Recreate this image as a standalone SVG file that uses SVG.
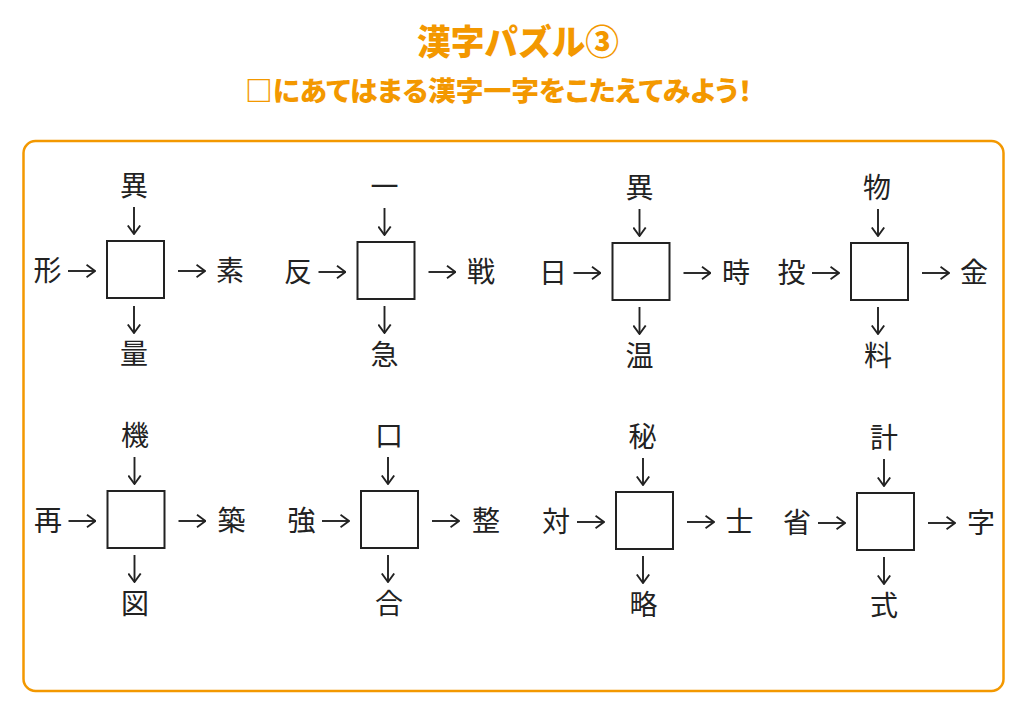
<svg xmlns="http://www.w3.org/2000/svg" width="1024" height="724" viewBox="0 0 1024 724">
  <defs>
    <marker id="ah" viewBox="0 0 10 14" refX="9.3" refY="7" markerWidth="10" markerHeight="14" markerUnits="userSpaceOnUse" orient="auto">
      <path d="M0.8,0.8 L9.3,7 L0.8,13.2" fill="none" stroke="#222" stroke-width="1.9" stroke-linejoin="miter"/>
    </marker>
  </defs>
  <style>
    .title { font-family: "Noto Sans CJK JP", "Noto Sans", sans-serif; font-weight: 900; fill: #F39800; }
    .sub { font-family: "Noto Sans CJK JP", "Noto Sans", sans-serif; font-weight: 900; fill: #F39800; font-feature-settings: "palt"; }
    .frame { fill: #fff; stroke: #F39800; stroke-width: 2.5; }
    .box { fill: #fff; stroke: #222; stroke-width: 2; }
    .k { font-family: "Noto Sans CJK JP", "Noto Sans", sans-serif; font-size: 28px; fill: #222; text-anchor: middle; }
    .c { fill: none; stroke: #222; stroke-width: 1.9; marker-end: url(#ah); }
  </style>
  <rect width="1024" height="724" fill="#fff"/>
  <text class="title" x="518" y="55" font-size="35" text-anchor="middle" textLength="202" lengthAdjust="spacingAndGlyphs">漢字パズル③</text>
  <text class="sub" x="245" y="101" font-size="27" textLength="507" lengthAdjust="spacingAndGlyphs">□にあてはまる漢字一字をこたえてみよう！</text>
  <rect class="frame" x="23.5" y="141" width="980" height="550" rx="12"/>

  <g id="connectors">
    <!-- P1 box 107,241 -->
    <path class="c" d="M134,207 V234"/>
    <path class="c" d="M68,271 H95"/>
    <path class="c" d="M178,271 H205"/>
    <path class="c" d="M134,306 V333"/>
    <!-- P2 box 357.5,242 -->
    <path class="c" d="M384.5,208 V235"/>
    <path class="c" d="M318.5,272 H345.5"/>
    <path class="c" d="M428.5,272 H455.5"/>
    <path class="c" d="M384.5,306 V333"/>
    <!-- P3 box 612.5,243 -->
    <path class="c" d="M639.5,209 V236"/>
    <path class="c" d="M573.5,273 H600.5"/>
    <path class="c" d="M683.5,273 H710.5"/>
    <path class="c" d="M639.5,307 V334"/>
    <!-- P4 box 851,243 -->
    <path class="c" d="M878,209 V236"/>
    <path class="c" d="M812,273 H839"/>
    <path class="c" d="M922,273 H949"/>
    <path class="c" d="M878,307 V334"/>
    <!-- P5 box 107.5,491 -->
    <path class="c" d="M134.5,457 V484"/>
    <path class="c" d="M68.5,521 H95.5"/>
    <path class="c" d="M178.5,521 H205.5"/>
    <path class="c" d="M134.5,555 V582"/>
    <!-- P6 box 361,491 -->
    <path class="c" d="M388,457 V484"/>
    <path class="c" d="M322,521 H349"/>
    <path class="c" d="M432,521 H459"/>
    <path class="c" d="M388,555 V582"/>
    <!-- P7 box 616,492 -->
    <path class="c" d="M643,458 V485"/>
    <path class="c" d="M577,522 H604"/>
    <path class="c" d="M687,522 H714"/>
    <path class="c" d="M643,556 V583"/>
    <!-- P8 box 857,493 -->
    <path class="c" d="M884,459 V486"/>
    <path class="c" d="M818,523 H845"/>
    <path class="c" d="M928,523 H955"/>
    <path class="c" d="M884,557 V584"/>
  </g>

  <g id="p1">
    <rect class="box" x="107" y="241" width="57" height="57"/>
    <text class="k" x="134" y="196">異</text>
    <text class="k" x="47.5" y="280.5">形</text>
    <text class="k" x="230" y="280.5">素</text>
    <text class="k" x="134" y="364">量</text>
  </g>
  <g id="p2">
    <rect class="box" x="357.5" y="242" width="57" height="57"/>
    <text class="k" x="384.5" y="197">一</text>
    <text class="k" x="298" y="281.5">反</text>
    <text class="k" x="481" y="281.5">戦</text>
    <text class="k" x="384.5" y="365">急</text>
  </g>
  <g id="p3">
    <rect class="box" x="612.5" y="243" width="57" height="57"/>
    <text class="k" x="639.5" y="198">異</text>
    <text class="k" x="553" y="282.5">日</text>
    <text class="k" x="736" y="282.5">時</text>
    <text class="k" x="639.5" y="366">温</text>
  </g>
  <g id="p4">
    <rect class="box" x="851" y="243" width="57" height="57"/>
    <text class="k" x="877" y="198">物</text>
    <text class="k" x="791.5" y="282.5">投</text>
    <text class="k" x="974" y="282.5">金</text>
    <text class="k" x="878" y="366">料</text>
  </g>
  <g id="p5">
    <rect class="box" x="107.5" y="491" width="57" height="57"/>
    <text class="k" x="135" y="446">機</text>
    <text class="k" x="48" y="530.5">再</text>
    <text class="k" x="231.5" y="530.5">築</text>
    <text class="k" x="135" y="614">図</text>
  </g>
  <g id="p6">
    <rect class="box" x="361" y="491" width="57" height="57"/>
    <text class="k" x="389" y="446">口</text>
    <text class="k" x="301.5" y="530.5">強</text>
    <text class="k" x="486" y="530.5">整</text>
    <text class="k" x="389" y="614">合</text>
  </g>
  <g id="p7">
    <rect class="box" x="616" y="492" width="57" height="57"/>
    <text class="k" x="642.5" y="447">秘</text>
    <text class="k" x="556" y="531.5">対</text>
    <text class="k" x="739.5" y="531.5">士</text>
    <text class="k" x="643.5" y="615">略</text>
  </g>
  <g id="p8">
    <rect class="box" x="857" y="493" width="57" height="57"/>
    <text class="k" x="884" y="448">計</text>
    <text class="k" x="797" y="532.5">省</text>
    <text class="k" x="981" y="532.5">字</text>
    <text class="k" x="884" y="616">式</text>
  </g>
</svg>
